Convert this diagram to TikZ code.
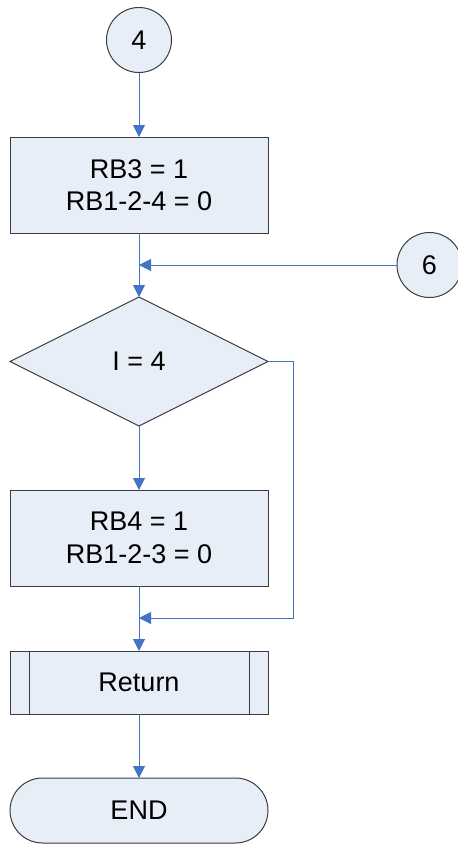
\documentclass[tikz,border=0pt]{standalone}
\usepackage{fontspec}
\setmainfont{Liberation Sans}
\usetikzlibrary{arrows.meta,shapes.geometric,shapes.misc}
\definecolor{boxfill}{RGB}{232,238,248}
\definecolor{boxline}{RGB}{60,60,60}
\definecolor{arrblue}{RGB}{68,114,196}
\tikzset{
  base/.style={draw=boxline, fill=boxfill, line width=1pt, outer sep=0pt, inner sep=0pt,
    font=\fontsize{27}{32.5}\selectfont, align=center, text=black},
  procbox/.style={base, rectangle, minimum width=258pt, minimum height=96pt},
  connector/.style={base, circle, minimum size=65pt},
  decision/.style={base, diamond, minimum width=258pt, minimum height=129pt},
  subproc/.style={base, rectangle, minimum width=258pt, minimum height=63pt},
  terminal/.style={base, rounded rectangle, minimum width=258pt, minimum height=65pt},
  arr/.style={draw=arrblue, line width=1pt, -{Triangle[length=12pt,width=12pt]}},
  plain/.style={draw=arrblue, line width=1pt}
}
\begin{document}
\begin{tikzpicture}[x=1pt,y=-1pt]
\useasboundingbox (0,0) rectangle (458,844);
\node[connector] (c4) at (139,40) {4};
\node[procbox] (b1) at (139,185) {RB3 = 1\\RB1-2-4 = 0};
\node[connector] (c6) at (429.5,265) {6};
\node[decision] (d) at (139,361.5) {I = 4};
\node[procbox] (b2) at (139,538) {RB4 = 1\\RB1-2-3 = 0};
\node[subproc] (ret) at (139,682.5) {Return};
\draw[boxline, line width=1pt] ([xshift=19pt]ret.north west) -- ([xshift=19pt]ret.south west);
\draw[boxline, line width=1pt] ([xshift=-19pt]ret.north east) -- ([xshift=-19pt]ret.south east);
\node[terminal] (end) at (139,810.5) {END};
\coordinate (j1) at (139,265);
\coordinate (j2) at (139,618);
\coordinate (k) at (293,361.5);
\draw[arr] (c4) -- (b1);
\draw[arr] (b1) -- (d);
\draw[arr] (c6) -- (j1);
\draw[arr] (d) -- (b2);
\draw[arr] (d.east) -- (k) |- (j2);
\draw[arr] (b2) -- (ret);
\draw[arr] (ret) -- (end);
\end{tikzpicture}
\end{document}
